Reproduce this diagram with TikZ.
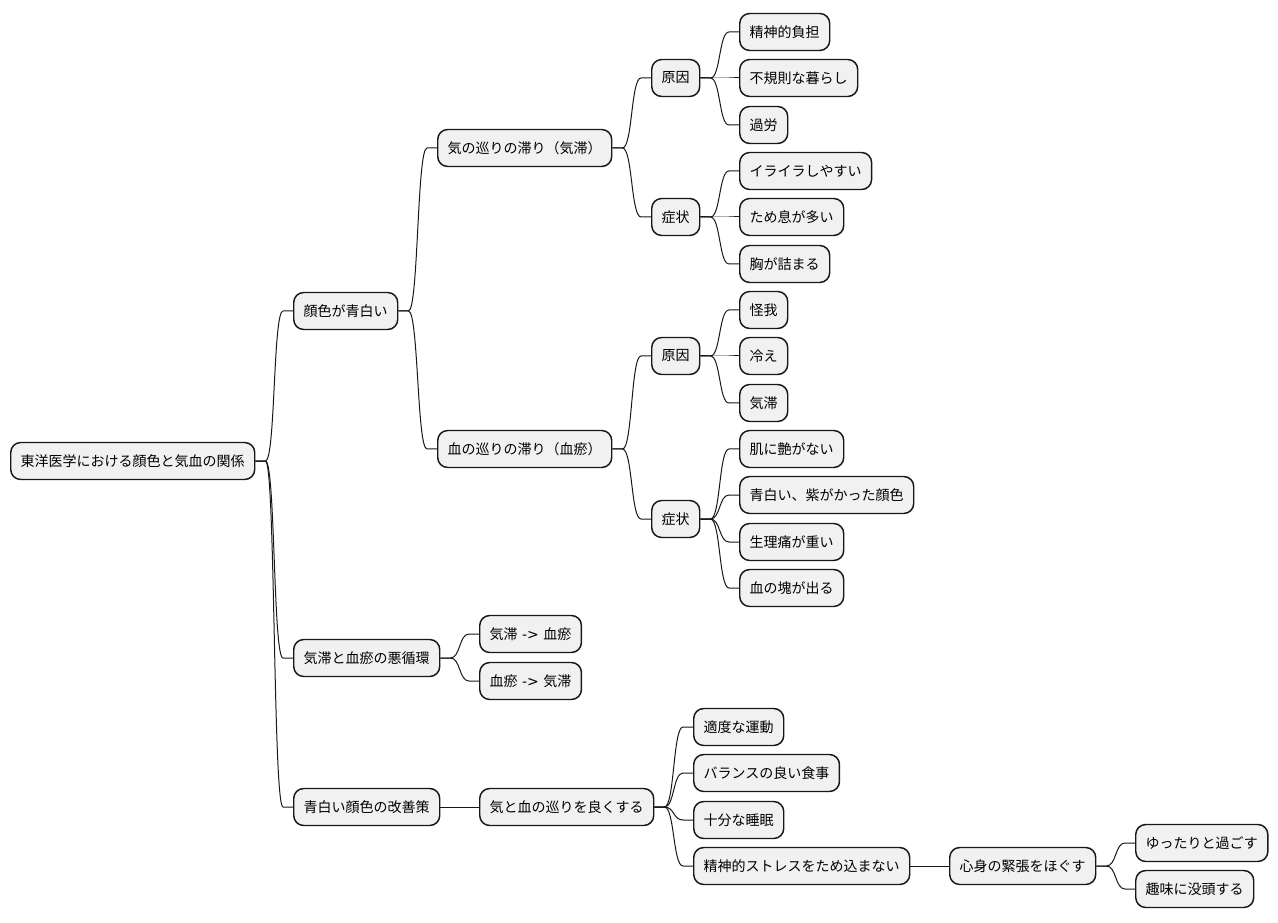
\documentclass[tikz,border=0pt]{standalone}
\usepackage{fontspec}
\setmainfont{Noto Sans CJK JP}
\newfontfamily\latinfont{DejaVu Sans}
\usetikzlibrary{calc}
\definecolor{boxfill}{HTML}{F1F1F1}
\definecolor{boxline}{HTML}{181818}
\tikzset{
  mmnode/.style={draw=boxline, fill=boxfill, line width=1.1pt, rounded corners=7.5pt,
    inner xsep=7.5pt, inner ysep=0pt, minimum height=27.75pt, anchor=west,
    font=\fontsize{10.5pt}{12pt}\selectfont, text=black},
  mmedge/.style={draw=boxline, line width=0.75pt,
    to path={-- ++(10,0) .. controls +(10,0) and +(-10,0) .. ($(\tikztotarget)+(-10,0)$) -- (\tikztotarget)}},
  mmline/.style={draw=boxline, line width=0.75pt}
}
\begin{document}
\begin{tikzpicture}[x=0.75pt,y=-0.75pt]
\useasboundingbox (0,0) rectangle (1278,923);
\node[mmnode] (root) at (10,461) {東洋医学における顔色と気血の関係};
\node[mmnode] (n1) at (293,311) {顔色が青白い};
\node[mmnode] (n2) at (293,658) {気滞と血瘀の悪循環};
\node[mmnode] (n3) at (293,807) {青白い顔色の改善策};
\node[mmnode] (a1) at (437,148) {気の巡りの滞り（気滞）};
\node[mmnode] (a2) at (437,449) {血の巡りの滞り（血瘀）};
\node[mmnode] (b1) at (651,78) {原因};
\node[mmnode] (b2) at (651,217) {症状};
\node[mmnode] (b3) at (651,356) {原因};
\node[mmnode] (b4) at (651,519) {症状};
\node[mmnode] (l1) at (739,32) {精神的負担};
\node[mmnode] (l2) at (739,78) {不規則な暮らし};
\node[mmnode] (l3) at (739,125) {過労};
\node[mmnode] (l4) at (739,171) {イライラしやすい};
\node[mmnode] (l5) at (739,217) {ため息が多い};
\node[mmnode] (l6) at (739,264) {胸が詰まる};
\node[mmnode] (l7) at (739,310) {怪我};
\node[mmnode] (l8) at (739,356) {冷え};
\node[mmnode] (l9) at (739,403) {気滞};
\node[mmnode] (l10) at (739,449) {肌に艶がない};
\node[mmnode] (l11) at (739,495) {青白い、紫がかった顔色};
\node[mmnode] (l12) at (739,542) {生理痛が重い};
\node[mmnode] (l13) at (739,588) {血の塊が出る};
\node[mmnode] (c1) at (479,634) {気滞{\latinfont\ -> }血瘀};
\node[mmnode] (c2) at (479,681) {血瘀{\latinfont\ -> }気滞};
\node[mmnode] (d1) at (479,807) {気と血の巡りを良くする};
\node[mmnode] (e1) at (693,727) {適度な運動};
\node[mmnode] (e2) at (693,773) {バランスの良い食事};
\node[mmnode] (e3) at (693,820) {十分な睡眠};
\node[mmnode] (e4) at (693,866) {精神的ストレスをため込まない};
\node[mmnode] (f1) at (949,866) {心身の緊張をほぐす};
\node[mmnode] (g1) at (1135,843) {ゆったりと過ごす};
\node[mmnode] (g2) at (1135,889) {趣味に没頭する};

\foreach \c in {n1,n2,n3} \draw[mmedge] (root.east) to (\c.west);
\foreach \c in {a1,a2} \draw[mmedge] (n1.east) to (\c.west);
\foreach \c in {b1,b2} \draw[mmedge] (a1.east) to (\c.west);
\foreach \c in {b3,b4} \draw[mmedge] (a2.east) to (\c.west);
\foreach \c in {l1,l2,l3} \draw[mmedge] (b1.east) to (\c.west);
\foreach \c in {l4,l5,l6} \draw[mmedge] (b2.east) to (\c.west);
\foreach \c in {l7,l8,l9} \draw[mmedge] (b3.east) to (\c.west);
\foreach \c in {l10,l11,l12,l13} \draw[mmedge] (b4.east) to (\c.west);
\foreach \c in {c1,c2} \draw[mmedge] (n2.east) to (\c.west);
\draw[mmline] (n3.east) -- (d1.west);
\foreach \c in {e1,e2,e3,e4} \draw[mmedge] (d1.east) to (\c.west);
\draw[mmline] (e4.east) -- (f1.west);
\foreach \c in {g1,g2} \draw[mmedge] (f1.east) to (\c.west);
\end{tikzpicture}
\end{document}
